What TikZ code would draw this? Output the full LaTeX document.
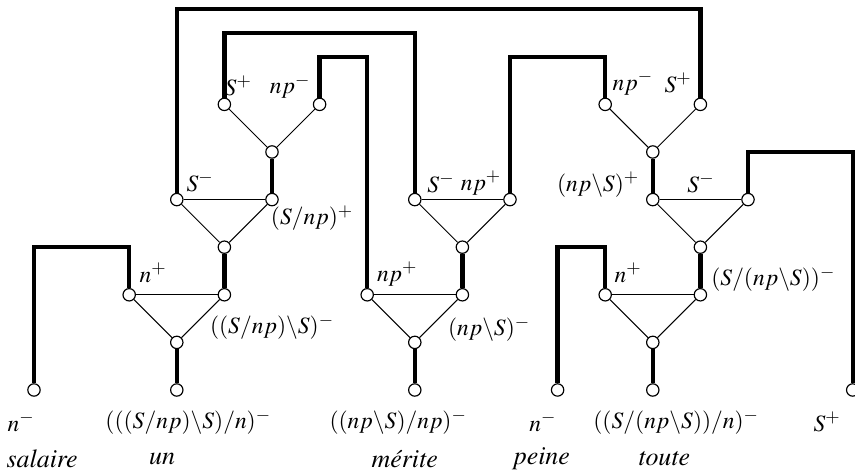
\documentclass[tikz,border=0pt]{standalone}
\usepackage[T1]{fontenc}
\usepackage{mathptmx}
\usetikzlibrary{positioning}
\DeclareMathSizes{14}{14}{11}{8}

\begin{document}
\begin{tikzpicture}[x=1cm, y=1cm,
    port/.style={
        circle,
        draw,
        fill=white,
        line width=0.7pt,
        inner sep=0pt,
        minimum size=0.26cm
    },
    axiom/.style={line width=2.6pt},
    linkthick/.style={line width=2.6pt},
    linkthin/.style={line width=0.6pt},
    formula/.style={
        font=\fontsize{14}{16}\selectfont,
        inner sep=0pt
    },
    word/.style={
        font=\fontsize{15.5}{18}\selectfont\itshape,
        inner sep=0pt
    }
]
\useasboundingbox (-0.714,-1.765) rectangle (17.248,8.193);

% Ports of the words
\node[port] (sal) at (0,0) {};
\node[port] (un0) at (3,0) {};
\node[port] (un1) at (3,1) {};
\node[port] (un2l) at (2,2) {};
\node[port] (un2r) at (4,2) {};
\node[port] (un3) at (4,3) {};
\node[port] (un4l) at (3,4) {};
\node[port] (un4r) at (5,4) {};
\node[port] (un5) at (5,5) {};
\node[port] (un6l) at (4,6) {};
\node[port] (un6r) at (6,6) {};

\node[port] (mer0) at (8,0) {};
\node[port] (mer1) at (8,1) {};
\node[port] (mer2l) at (7,2) {};
\node[port] (mer2r) at (9,2) {};
\node[port] (mer3) at (9,3) {};
\node[port] (mer4l) at (8,4) {};
\node[port] (mer4r) at (10,4) {};

\node[port] (pei) at (11,0) {};

\node[port] (tou0) at (13,0) {};
\node[port] (tou1) at (13,1) {};
\node[port] (tou2l) at (12,2) {};
\node[port] (tou2r) at (14,2) {};
\node[port] (tou3) at (14,3) {};
\node[port] (tou4l) at (13,4) {};
\node[port] (tou4r) at (15,4) {};
\node[port] (tou5) at (13,5) {};
\node[port] (tou6l) at (12,6) {};
\node[port] (tou6r) at (14,6) {};

\node[port] (fin) at (17.2,0) {};

% Links inside un
\draw[linkthick] (un0) -- (un1);
\draw[linkthin] (un1) -- (un2l);
\draw[linkthin] (un1) -- (un2r);
\draw[linkthin] (un2l) -- (un2r);
\draw[linkthick] (un2r) -- (un3);
\draw[linkthin] (un3) -- (un4l);
\draw[linkthin] (un3) -- (un4r);
\draw[linkthin] (un4l) -- (un4r);
\draw[linkthick] (un4r) -- (un5);
\draw[linkthin] (un5) -- (un6l);
\draw[linkthin] (un5) -- (un6r);

% Links inside merite
\draw[linkthick] (mer0) -- (mer1);
\draw[linkthin] (mer1) -- (mer2l);
\draw[linkthin] (mer1) -- (mer2r);
\draw[linkthin] (mer2l) -- (mer2r);
\draw[linkthick] (mer2r) -- (mer3);
\draw[linkthin] (mer3) -- (mer4l);
\draw[linkthin] (mer3) -- (mer4r);
\draw[linkthin] (mer4l) -- (mer4r);

% Links inside toute
\draw[linkthick] (tou0) -- (tou1);
\draw[linkthin] (tou1) -- (tou2l);
\draw[linkthin] (tou1) -- (tou2r);
\draw[linkthin] (tou2l) -- (tou2r);
\draw[linkthick] (tou2r) -- (tou3);
\draw[linkthin] (tou3) -- (tou4l);
\draw[linkthin] (tou3) -- (tou4r);
\draw[linkthin] (tou4l) -- (tou4r);
\draw[linkthick] (tou4l) -- (tou5);
\draw[linkthin] (tou5) -- (tou6l);
\draw[linkthin] (tou5) -- (tou6r);

% Axiom links
\draw[axiom] (sal) -- ++(0,3) -| (un2l);
\draw[axiom] (un4l) -- ++(0,4) -| (tou6r);
\draw[axiom] (un6l) -- ++(0,1.5) -| (mer4l);
\draw[axiom] (un6r) -- ++(0,1) -| (mer2l);
\draw[axiom] (mer4r) -- ++(0,3) -| (tou6l);
\draw[axiom] (pei) -- ++(0,3) -| (tou2l);
\draw[axiom] (tou4r) -- ++(0,1) -| (fin);

% Formulas under the words
\node[formula] (l-sal) at (-0.27,-0.67) {$n^-$};
\node[formula] (l-un) at (3.24,-0.67) {$(((S/np)\backslash S)/n)^-$};
\node[formula] (l-mer) at (7.65,-0.67) {$((np\backslash S)/np)^-$};
\node[formula] (l-pei) at (10.69,-0.67) {$n^-$};
\node[formula] (l-tou) at (13.49,-0.67) {$((S/(np\backslash S))/n)^-$};
\node[formula] (l-fin) at (16.66,-0.67) {$S^+$};

% Words
\node[word] (w-sal) at (0.17,-1.45) {salaire};
\node[word] (w-un) at (2.69,-1.45) {un};
\node[word] (w-mer) at (7.79,-1.45) {m\'erite};
\node[word] (w-pei) at (10.67,-1.45) {peine};
\node[word] (w-tou) at (13.24,-1.45) {toute};

% Formulas at the ports
\node[formula] (l-un2l) at (2.50,2.46) {$n^+$};
\node[formula] (l-un2r) at (5.0,1.32) {$((S/np)\backslash S)^-$};
\node[formula] (l-un4r) at (5.84,3.61) {$(S/np)^+$};
\node[formula] (l-un4l) at (3.49,4.37) {$S^-$};
\node[formula] (l-un6l) at (4.29,6.39) {$S^+$};
\node[formula] (l-un6r) at (5.38,6.37) {$np^-$};
\node[formula] (l-mer4l) at (8.55,4.35) {$S^-$};
\node[formula] (l-mer4r) at (9.39,4.35) {$np^+$};
\node[formula] (l-mer2l) at (7.63,2.44) {$np^+$};
\node[formula] (l-mer2r) at (9.56,1.28) {$(np\backslash S)^-$};
\node[formula] (l-tou6l) at (12.58,6.45) {$np^-$};
\node[formula] (l-tou6r) at (13.53,6.45) {$S^+$};
\node[formula] (l-tou4l) at (11.85,4.31) {$(np\backslash S)^+$};
\node[formula] (l-tou4r) at (14.01,4.35) {$S^-$};
\node[formula] (l-tou2l) at (12.48,2.46) {$n^+$};
\node[formula] (l-tou2r) at (15.53,2.33) {$(S/(np\backslash S))^-$};

\end{tikzpicture}
\end{document}
